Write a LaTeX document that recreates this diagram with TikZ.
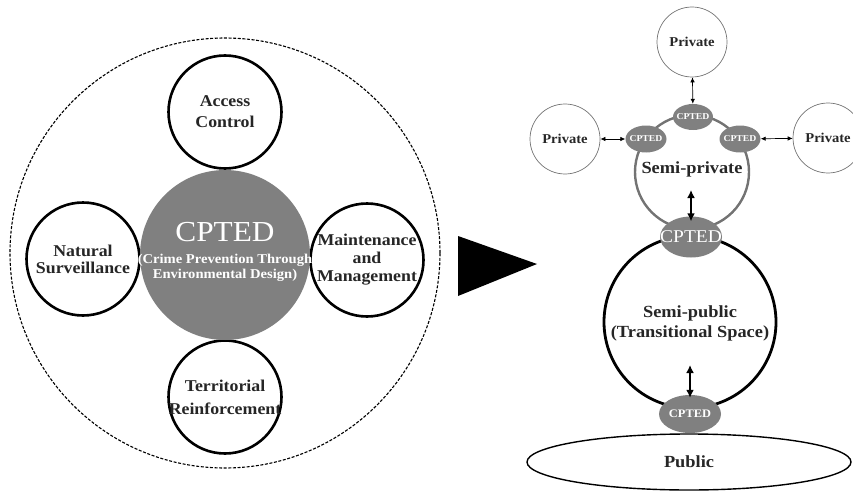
\documentclass[tikz,border=0pt]{standalone}
\usepackage{fontspec}
\setmainfont{Liberation Serif}[FakeStretch=1.08]
\usetikzlibrary{shapes.geometric,arrows.meta}
\begin{document}
\begin{tikzpicture}[x=1pt,y=-1pt,
  lbl/.style={font=\bfseries\fontsize{16.5}{20}\selectfont, align=center, text=black!85},
  pillar/.style={circle, draw=black, line width=2.6pt, minimum size=113pt, inner sep=0pt, fill=white},
  core/.style={circle, fill=gray, minimum size=170pt, inner sep=0pt},
  privc/.style={circle, draw=black!55, line width=0.7pt, minimum size=70pt, inner sep=0pt},
  privtxt/.style={font=\bfseries\fontsize{13.5}{16}\selectfont, text=black!85},
  smallcp/.style={ellipse, fill=gray, minimum width=41pt, minimum height=27pt, inner sep=0pt},
  smalltxt/.style={font=\bfseries\fontsize{9}{10}\selectfont, text=white},
  thinarrow/.style={{Latex[length=5pt,width=4.5pt]}-{Latex[length=5pt,width=4.5pt]}, line width=0.7pt},
  thickarrow/.style={{Latex[length=8pt,width=8pt]}-{Latex[length=8pt,width=8pt]}, line width=2.6pt}
]
\useasboundingbox (0,0) rectangle (853,492);

% ---------- left part ----------
\node[circle, draw, dash pattern=on 3pt off 1.6pt, line width=1.1pt, minimum size=430pt, inner sep=0pt] (outer) at (225,253) {};
\node[pillar, label={[lbl, text depth=0pt]center:{Access\\[1pt]Control}}] (ac) at (225,112) {};
\node[pillar, label={[lbl]center:{Natural\\[-3pt]Surveillance}}] (ns) at (83,259) {};
\node[pillar, label={[lbl]center:{Maintenance\\[-2pt]and\\[-2pt]Management}}] (mm) at (367,260) {};
\node[pillar, label={[lbl]center:{Territorial\\[3pt]Reinforcement}}] (tr) at (225,397) {};
\node[core] (cp) at (225,255) {};
\node[font=\fontsize{29}{30}\selectfont, text=white] (cpt) at (225,232) {CPTED};
\node[font=\bfseries\fontsize{13.5}{15}\selectfont, text=white, align=center] (cpd) at (225,268) {(Crime Prevention Through\\Environmental Design)};

% ---------- arrow ----------
\fill (458,236) -- (537,264) -- (458,296) -- cycle;

% ---------- right part ----------
\node[circle, draw=black!55, line width=2.4pt, minimum size=114pt, inner sep=0pt] (sp) at (692,172) {};
\node[circle, draw=black, line width=2.8pt, minimum size=172pt, inner sep=0pt] (spub) at (690,322) {};
\node[ellipse, draw=black, line width=1.4pt, minimum width=324pt, minimum height=56pt, inner sep=0pt,
      label={[font=\bfseries\fontsize{17}{18}\selectfont, text=black!85]center:Public}] (pub) at (689,462) {};

\node[privc, label={[privtxt]center:Private}] (ptop) at (692,42) {};
\node[privc, label={[privtxt]center:Private}] (pleft) at (565,139) {};
\node[privc, label={[privtxt]center:Private}] (pright) at (828,138) {};

\node[smallcp, minimum width=40pt, minimum height=26pt, label={[smalltxt]center:CPTED}] (ctop) at (693,117) {};
\node[smallcp, label={[smalltxt]center:CPTED}] (cleft) at (646,139) {};
\node[smallcp, label={[smalltxt]center:CPTED}] (cright) at (740,139) {};
\node[ellipse, fill=gray, minimum width=62pt, minimum height=41pt, inner sep=0pt,
      label={[font=\fontsize{18}{18}\selectfont, text=white]center:CPTED}] (cmid) at (691,237) {};
\node[ellipse, fill=gray, minimum width=62pt, minimum height=38pt, inner sep=0pt,
      label={[font=\bfseries\fontsize{11.5}{12}\selectfont, text=white]center:CPTED}] (cbot) at (690,414) {};

\node[font=\bfseries\fontsize{17}{18}\selectfont, text=black!85] (sptxt) at (692,169) {Semi-private};
\node[font=\bfseries\fontsize{17}{20}\selectfont, text=black!85, align=center] (spubtxt) at (690,323) {Semi-public\\(Transitional Space)};

\coordinate (a1) at (691,190);
\coordinate (a2) at (690,365);

\draw[thinarrow] (ptop) -- (ctop);
\draw[thinarrow] (pleft) -- (cleft);
\draw[thinarrow] (cright) -- (pright);
\draw[thickarrow, shorten >=-5pt] (a1) -- (cmid.north);
\draw[thickarrow, shorten >=-3pt] (a2) -- (cbot.north);
\end{tikzpicture}
\end{document}
